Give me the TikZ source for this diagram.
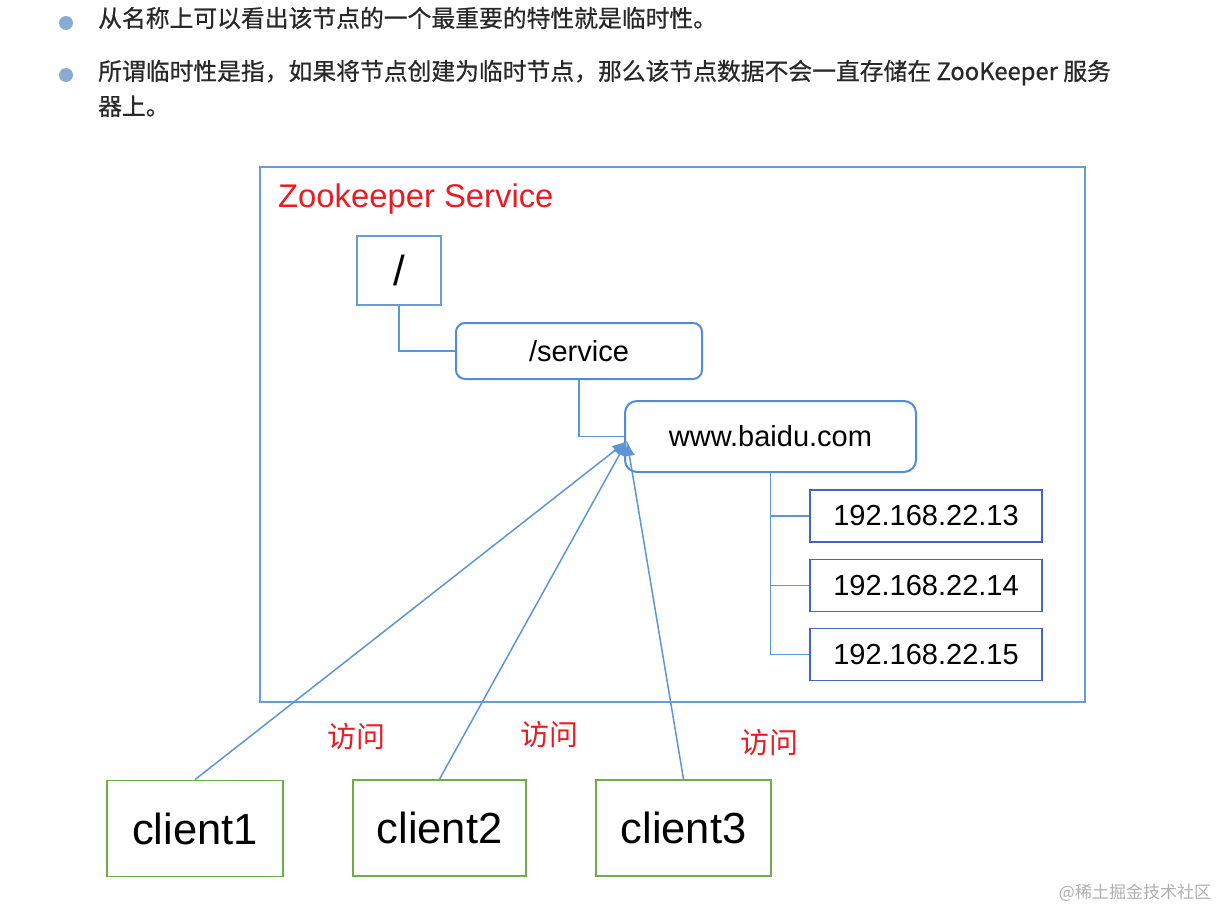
\documentclass[tikz,border=0pt]{standalone}
\usepackage{fontspec}
\setmainfont{Liberation Sans}
\newfontfamily\cjk{Noto Sans CJK SC}
\newfontfamily\cjkbody[FakeBold=0.6]{Noto Sans CJK SC}
\usetikzlibrary{arrows.meta}
\definecolor{outerblue}{RGB}{105,155,212}
\definecolor{roundblue}{RGB}{82,140,215}
\definecolor{ipblue}{RGB}{70,100,200}
\definecolor{connblue}{RGB}{92,150,215}
\definecolor{clientgreen}{RGB}{112,172,72}
\definecolor{refred}{RGB}{232,28,34}
\definecolor{bodytext}{RGB}{40,40,40}
\definecolor{bulletblue}{RGB}{138,172,212}
\definecolor{wmgray}{RGB}{175,175,175}
\tikzset{
  fs/.style={font=\fontsize{#1}{#1}\selectfont},
  outerbox/.style={draw=outerblue, line width=1.5pt, inner sep=0pt},
  rootbox/.style={draw=outerblue, line width=1.8pt, inner sep=0pt, fs=42},
  roundbox/.style={draw=roundblue, line width=2pt, rounded corners=9pt, inner sep=0pt, fs=29},
  ipbox/.style={draw=ipblue, line width=1.8pt, inner sep=0pt, minimum width=232pt, minimum height=52pt, fs=29},
  clientbox/.style={draw=clientgreen, line width=1.8pt, inner sep=0pt, minimum height=96pt, fs=43.5},
  conn/.style={draw=connblue, line width=1.5pt},
  arr/.style={conn, -{Latex[length=15pt,width=11pt]}},
  redlabel/.style={text=refred, inner sep=0pt, font=\cjk\fontsize{29}{29}\selectfont},
  bodyline/.style={text=bodytext, anchor=base west, inner sep=0pt, font=\cjkbody\fontsize{23.8}{23.8}\selectfont},
  bullet/.style={circle, fill=bulletblue, inner sep=0pt, minimum size=14pt},
}
\begin{document}
\begin{tikzpicture}[x=1pt,y=-1pt]
\useasboundingbox (0,0) rectangle (1220,910);
\fill[white] (0,0) rectangle (1220,910);

% top text
\node[bullet] (b1) at (66,23) {};
\node[bullet] (b2) at (66,75) {};
\node[bodyline] (l1) at (98,27) {从名称上可以看出该节点的一个最重要的特性就是临时性。};
\node[bodyline] (l2) at (98,80) {所谓临时性是指，如果将节点创建为临时节点，那么该节点数据不会一直存储在 ZooKeeper 服务};
\node[bodyline] (l3) at (98,115) {器上。};

% service frame
\node[outerbox, minimum width=825pt, minimum height=535pt] (svc) at (672.5,434.5) {};
\node[anchor=west, text=refred, fs=32.8, inner sep=0pt] (title) at (278,199) {Zookeeper Service};

% tree
\node[rootbox, minimum width=84pt, minimum height=69pt] (root) at (399,270.5) {/};
\node[roundbox, minimum width=246pt, minimum height=56pt] (service) at (579,351) {/service};
\node[roundbox, rounded corners=12pt, minimum width=291pt, minimum height=71pt] (www) at (770.5,436.5) {www.baidu.com};
\node[ipbox] (ip1) at (926,516) {192.168.22.13};
\node[ipbox] (ip2) at (926,585.5) {192.168.22.14};
\node[ipbox] (ip3) at (926,654.5) {192.168.22.15};

\draw[conn] (root.south) |- (service.west);
\draw[conn] (service.south) |- (www.west);
\draw[conn] (www.south) |- (ip3.west);
\draw[conn] (www.south |- ip1.west) -- (ip1.west);
\draw[conn] (www.south |- ip2.west) -- (ip2.west);

% clients
\node[clientbox, minimum width=176pt] (c1) at (195,828.5) {client1};
\node[clientbox, minimum width=173pt] (c2) at (439.5,828) {client2};
\node[clientbox, minimum width=175pt] (c3) at (683.5,828) {client3};

\coordinate (tip) at (627,441);
\draw[arr] (c1.north) -- (tip);
\draw[arr] (c2.north) -- (tip);
\draw[arr] (c3.north) -- (tip);

\node[redlabel] (v1) at (356,737) {访问};
\node[redlabel] (v2) at (549,735) {访问};
\node[redlabel] (v3) at (769,743) {访问};

% watermark
\node[text=wmgray, inner sep=0pt, font=\cjk\fontsize{17}{17}\selectfont] (wm) at (1135,893) {@稀土掘金技术社区};
\end{tikzpicture}
\end{document}
